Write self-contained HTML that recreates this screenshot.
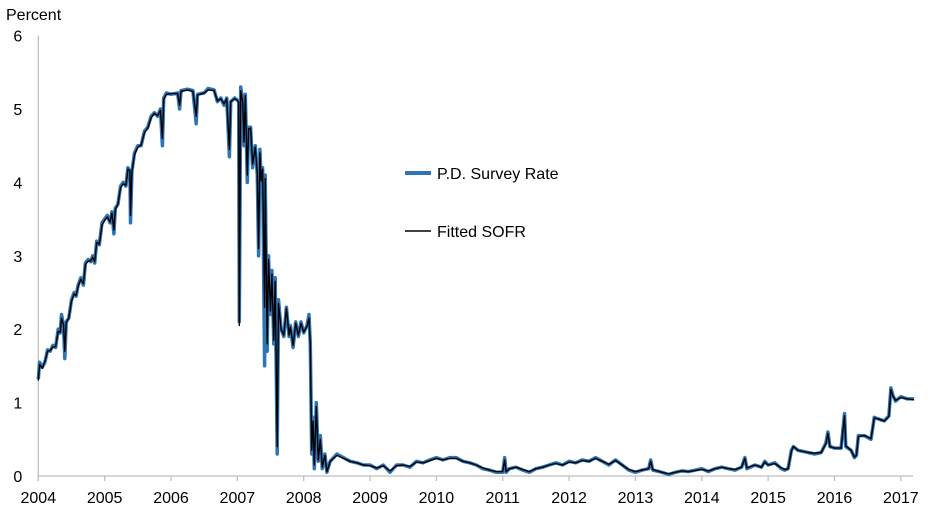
<!DOCTYPE html>
<html><head><meta charset="utf-8"><style>
html,body{margin:0;padding:0;background:#fff;}
svg{display:block;font-family:"Liberation Sans",sans-serif;}
</style></head><body>
<svg id="chart" width="942" height="519">
<text x="6" y="20" font-size="16" fill="#000">Percent</text>
<g id="axes"></g>
<g id="series"></g>
<g>
<line x1="405" y1="173" x2="431" y2="173" stroke="#2e75b6" stroke-width="4"/>
<text x="437" y="179" font-size="16">P.D. Survey Rate</text>
<line x1="405" y1="231" x2="431" y2="231" stroke="#000" stroke-width="1.5"/>
<text x="437" y="237" font-size="16">Fitted SOFR</text>
</g>
</svg>
<script>
const yTicks=[0,1,2,3,4,5,6];
const xTicks=[2004,2005,2006,2007,2008,2009,2010,2011,2012,2013,2014,2015,2016,2017];
const dates=[2004.00,2004.02,2004.06,2004.10,2004.14,2004.18,2004.22,2004.26,2004.30,2004.33,2004.35,2004.38,2004.40,2004.42,2004.46,2004.50,2004.54,2004.57,2004.60,2004.64,2004.68,2004.71,2004.75,2004.79,2004.82,2004.85,2004.88,2004.92,2004.96,2005.00,2005.04,2005.08,2005.11,2005.14,2005.16,2005.20,2005.24,2005.28,2005.32,2005.35,2005.38,2005.39,2005.41,2005.45,2005.50,2005.55,2005.60,2005.65,2005.70,2005.75,2005.80,2005.84,2005.87,2005.89,2005.93,2006.00,2006.10,2006.13,2006.15,2006.25,2006.33,2006.38,2006.40,2006.50,2006.56,2006.65,2006.70,2006.75,2006.80,2006.84,2006.88,2006.90,2006.96,2007.00,2007.02,2007.03,2007.05,2007.08,2007.10,2007.12,2007.15,2007.17,2007.20,2007.23,2007.27,2007.30,2007.32,2007.34,2007.36,2007.38,2007.41,2007.42,2007.45,2007.47,2007.50,2007.52,2007.55,2007.57,2007.60,2007.62,2007.66,2007.70,2007.74,2007.78,2007.80,2007.84,2007.88,2007.92,2007.96,2008.00,2008.05,2008.08,2008.10,2008.12,2008.14,2008.16,2008.19,2008.22,2008.25,2008.28,2008.32,2008.35,2008.40,2008.50,2008.60,2008.70,2008.80,2008.90,2009.00,2009.10,2009.20,2009.30,2009.40,2009.50,2009.60,2009.70,2009.80,2009.90,2010.00,2010.10,2010.20,2010.30,2010.40,2010.50,2010.60,2010.70,2010.80,2010.90,2011.00,2011.03,2011.05,2011.10,2011.20,2011.30,2011.40,2011.50,2011.60,2011.70,2011.80,2011.90,2012.00,2012.10,2012.20,2012.30,2012.40,2012.50,2012.60,2012.70,2012.80,2012.90,2013.00,2013.10,2013.20,2013.23,2013.26,2013.40,2013.50,2013.60,2013.70,2013.80,2014.00,2014.10,2014.20,2014.30,2014.40,2014.50,2014.60,2014.65,2014.68,2014.80,2014.90,2014.95,2015.00,2015.10,2015.20,2015.25,2015.30,2015.35,2015.38,2015.45,2015.60,2015.70,2015.80,2015.87,2015.90,2015.93,2016.00,2016.10,2016.15,2016.17,2016.25,2016.30,2016.33,2016.36,2016.45,2016.55,2016.60,2016.65,2016.75,2016.82,2016.85,2016.88,2016.92,2017.00,2017.10,2017.20];
const surveyRate=[1.32,1.55,1.48,1.55,1.72,1.70,1.78,1.75,2.00,1.95,2.20,2.05,1.60,2.10,2.15,2.40,2.50,2.45,2.60,2.70,2.60,2.90,2.95,2.92,3.00,2.90,3.20,3.15,3.45,3.50,3.55,3.45,3.60,3.30,3.65,3.70,3.95,4.00,3.95,4.20,4.15,3.45,4.15,4.40,4.50,4.50,4.70,4.75,4.90,4.95,4.90,5.00,4.50,5.15,5.22,5.20,5.22,5.00,5.25,5.27,5.25,4.80,5.20,5.22,5.28,5.26,5.10,5.15,5.05,5.15,4.35,5.10,5.15,5.12,5.10,2.10,5.30,5.10,4.50,5.20,4.00,4.75,4.75,4.20,4.50,4.10,3.00,4.45,4.00,4.20,1.50,4.10,1.70,3.00,2.20,2.80,1.80,2.70,0.30,2.40,2.00,1.90,2.30,1.90,2.05,1.75,2.10,1.90,2.10,1.95,2.05,2.20,1.80,0.30,0.80,0.10,1.00,0.20,0.55,0.10,0.30,0.05,0.20,0.30,0.25,0.20,0.18,0.15,0.15,0.10,0.15,0.05,0.15,0.15,0.12,0.20,0.18,0.22,0.25,0.22,0.25,0.25,0.20,0.18,0.15,0.10,0.08,0.05,0.05,0.25,0.05,0.10,0.12,0.08,0.05,0.10,0.12,0.15,0.18,0.15,0.20,0.18,0.22,0.20,0.25,0.20,0.15,0.22,0.15,0.08,0.05,0.08,0.10,0.22,0.08,0.05,0.02,0.05,0.07,0.06,0.10,0.06,0.10,0.12,0.10,0.08,0.12,0.25,0.10,0.15,0.12,0.20,0.15,0.18,0.10,0.08,0.10,0.35,0.40,0.35,0.32,0.30,0.32,0.45,0.60,0.40,0.38,0.38,0.85,0.40,0.35,0.25,0.28,0.55,0.55,0.50,0.80,0.78,0.75,0.82,1.20,1.10,1.02,1.08,1.05,1.05];
const fittedSofr=[1.30,1.52,1.47,1.56,1.70,1.71,1.76,1.76,1.97,1.96,2.15,2.06,1.70,2.08,2.16,2.38,2.48,2.46,2.58,2.68,2.62,2.88,2.93,2.93,2.98,2.92,3.18,3.16,3.42,3.48,3.53,3.46,3.58,3.35,3.63,3.70,3.93,3.98,3.96,4.18,4.16,3.55,4.14,4.38,4.48,4.51,4.68,4.74,4.88,4.94,4.91,4.98,4.60,5.13,5.20,5.21,5.21,5.05,5.24,5.26,5.24,4.90,5.19,5.22,5.26,5.25,5.11,5.14,5.07,5.14,4.45,5.10,5.14,5.12,5.09,2.05,5.25,5.10,4.55,5.18,4.10,4.73,4.74,4.25,4.48,4.12,3.10,4.40,4.02,4.18,2.30,4.05,1.80,2.95,2.25,2.75,1.85,2.65,0.40,2.35,2.00,1.92,2.28,1.92,2.03,1.78,2.08,1.92,2.08,1.96,2.04,2.15,1.80,0.35,0.75,0.15,0.95,0.22,0.50,0.12,0.28,0.06,0.20,0.28,0.24,0.20,0.18,0.15,0.14,0.11,0.14,0.07,0.14,0.15,0.13,0.19,0.18,0.21,0.24,0.22,0.24,0.24,0.20,0.18,0.15,0.11,0.08,0.06,0.06,0.22,0.06,0.10,0.12,0.09,0.06,0.10,0.12,0.15,0.17,0.15,0.19,0.18,0.21,0.20,0.24,0.20,0.16,0.21,0.15,0.09,0.06,0.08,0.10,0.20,0.09,0.05,0.03,0.05,0.07,0.06,0.09,0.07,0.10,0.12,0.10,0.09,0.12,0.24,0.11,0.15,0.12,0.19,0.15,0.17,0.11,0.09,0.10,0.34,0.40,0.35,0.32,0.31,0.32,0.44,0.58,0.40,0.38,0.38,0.82,0.41,0.35,0.26,0.28,0.54,0.55,0.51,0.79,0.78,0.75,0.81,1.18,1.09,1.03,1.07,1.05,1.04];

const NS='http://www.w3.org/2000/svg';
const x0=38.3,xPerYr=66.35,y0=476,yPerUnit=73.4;
function xs(t){return x0+(t-2004)*xPerYr;}
function ys(v){return y0-v*yPerUnit;}
function mk(tag,attrs,parent){const e=document.createElementNS(NS,tag);for(const k in attrs)e.setAttribute(k,attrs[k]);parent.appendChild(e);return e;}
const axes=document.getElementById('axes');
const yAxis=mk('line',{x1:x0,y1:ys(6),x2:x0,y2:y0,stroke:'#bfbfbf','stroke-width':1.3},axes);


const xAxis=mk('line',{x1:x0,y1:y0,x2:913,y2:y0,stroke:'#bfbfbf','stroke-width':1.3},axes);


yTicks.forEach(v=>{
  const t=mk('text',{x:x0-16,y:ys(v)+6,'font-size':16,'text-anchor':'end'},axes);
  t.textContent=v;
  
  
});
xTicks.forEach(yr=>{
  const tk=mk('line',{x1:xs(yr),y1:y0,x2:xs(yr),y2:y0+5,stroke:'#bfbfbf','stroke-width':1.3},axes);
  
  
  const t=mk('text',{x:xs(yr),y:y0+27,'font-size':16,'text-anchor':'middle'},axes);
  t.textContent=yr;
  
  
});
const g=document.getElementById('series');
function path(vals){return vals.map((v,i)=>(i?'L':'M')+xs(dates[i]).toFixed(1)+' '+ys(v).toFixed(1)).join('');}
const p1=mk('path',{d:path(surveyRate),fill:'none',stroke:'#2e75b6','stroke-width':3.5,'stroke-linejoin':'round'},g);


const p2=mk('path',{d:path(fittedSofr),fill:'none',stroke:'#000','stroke-width':1.4,'stroke-linejoin':'round'},g);


</script>
</body></html>
